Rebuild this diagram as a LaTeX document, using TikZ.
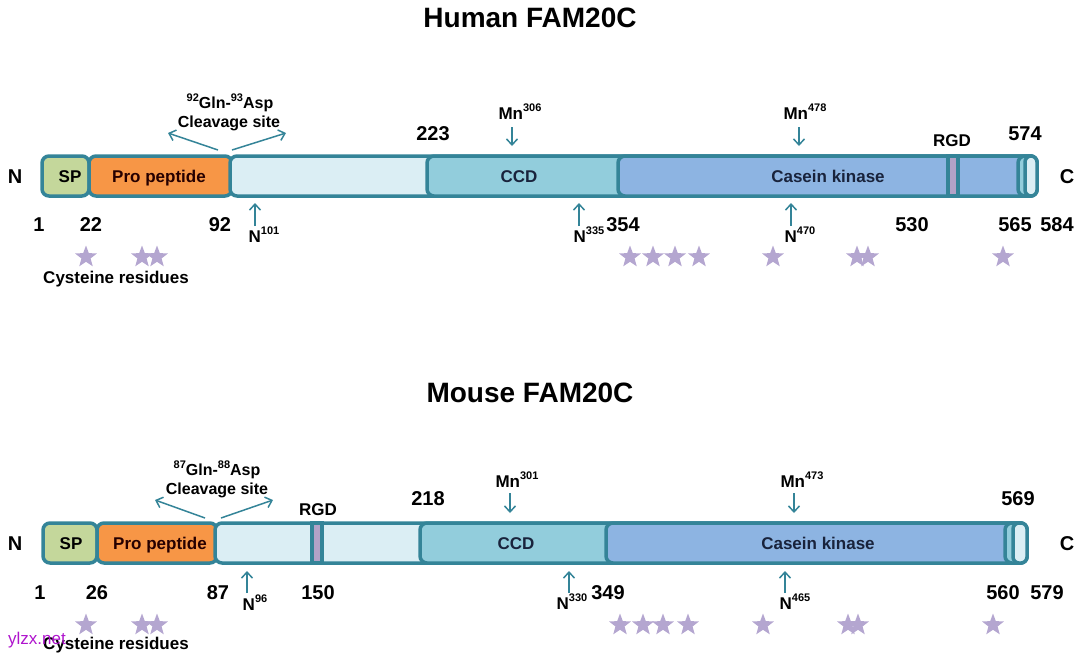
\documentclass[tikz,border=0pt]{standalone}
\usepackage{fontspec}
\setmainfont{Liberation Sans}
\usetikzlibrary{shapes.geometric,arrows.meta}

\definecolor{barline}{RGB}{52,132,152}
\definecolor{spgreen}{RGB}{196,215,155}
\definecolor{proorange}{RGB}{247,150,70}
\definecolor{paleseg}{RGB}{219,238,244}
\definecolor{ccdblue}{RGB}{146,205,220}
\definecolor{ckblue}{RGB}{141,180,226}
\definecolor{rgdlav}{RGB}{179,162,199}
\definecolor{cyslav}{RGB}{180,166,208}
\definecolor{darktext}{RGB}{25,35,60}
\definecolor{wmark}{RGB}{175,20,205}

\newcommand\upnum[1]{\raisebox{0.45em}{\fontsize{11}{11}\selectfont #1}}

\tikzset{
  seg/.style={draw=barline, line width=3.5pt, rounded corners=7pt},
  lbl/.style={font=\bfseries\fontsize{#1}{#1}\selectfont, text height=0.716*#1 pt, text depth=0pt, inner sep=0pt},
  lbl/.default=17,
  num/.style={lbl=20},
  site/.style={->, >={Straight Barb[length=6pt,width=11pt]}, draw=barline, line width=1.5pt},
  cys/.style={star, star points=5, star point ratio=2.4, fill=cyslav, minimum size=23pt, inner sep=0pt}
}

\begin{document}
\begin{tikzpicture}[x=1pt, y=-1pt]
  \useasboundingbox (0,0) rectangle (1080,657);

  % ---- human
  \node[lbl=28] (htitle) at (530,17) {Human FAM20C};
  \draw[seg, fill=spgreen] (42,156) rectangle (89,196);
  \draw[seg, fill=proorange] (89,156) rectangle (232,196);
  \draw[seg, fill=paleseg] (230,156) rectangle (1037,196);
  \draw[seg, fill=ccdblue] (427,156) rectangle (1037,196);
  \draw[seg, fill=ckblue] (618,156) rectangle (1037,196);
  \draw[seg, fill=rgdlav, rounded corners=0pt] (948,156) rectangle (958,196);
  \draw[seg, fill=ccdblue] (1018,156) rectangle (1037,196);
  \draw[seg, fill=paleseg, rounded corners=6pt] (1025,156) rectangle (1037,196);
  \node[lbl] (hsp) at (70,176) {SP};
  \node[lbl, text=black!85!red] (hpro) at (159,176) {Pro peptide};
  \node[lbl, text=darktext] (hccd) at (519,176) {CCD};
  \node[lbl, text=darktext] (hck) at (828,176) {Casein kinase};
  \node[num] (hN) at (15,176) {N};
  \node[num] (hC) at (1067,176) {C};
  \foreach \x/\t in {39/1, 91/22, 220/92, 623/354, 912/530, 1015/565, 1057/584}
    \node[num] (hnum\t) at (\x,224) {\t};
  \node[num] (hnum223) at (433,133) {223};
  \node[num] (hnum574) at (1025,133) {574};
  \node[lbl] (hrgd) at (952,140) {RGD};
  \node[lbl=16] (hgln) at (230,103) {\upnum{92}Gln-\upnum{93}Asp};
  \node[lbl=16] (hcleave) at (229,122) {Cleavage site};
  \coordinate (hcut) at (225,150);
  \coordinate (hcutL) at (168,133);
  \coordinate (hcutR) at (286,133);
  \draw[site] ([xshift=-7pt]hcut) -- (hcutL);
  \draw[site] ([xshift=7pt]hcut) -- (hcutR);
  \node[lbl] (hmn306) at (520,113) {Mn\upnum{306}};
  \node[lbl] (hmn478) at (805,113) {Mn\upnum{478}};
  \coordinate (hmn306tip) at (512,146);
  \coordinate (hmn478tip) at (799,146);
  \draw[site] (512,127) -- (hmn306tip);
  \draw[site] (799,127) -- (hmn478tip);
  \node[lbl] (hn101) at (264,236) {N\upnum{101}};
  \node[lbl] (hn335) at (589,236) {N\upnum{335}};
  \node[lbl] (hn470) at (800,236) {N\upnum{470}};
  \coordinate (hn101tip) at (255,203);
  \coordinate (hn335tip) at (579,203);
  \coordinate (hn470tip) at (791,203);
  \draw[site] (255,226) -- (hn101tip);
  \draw[site] (579,226) -- (hn335tip);
  \draw[site] (791,226) -- (hn470tip);
  \foreach \x in {86,142,157,630,653,675,699,773,857,868,1003}
    \node[cys] (hstar\x) at (\x,257) {};
  \node[lbl] (hcys) at (116,277) {Cysteine residues};

  % ---- mouse
  \node[lbl=28] (mtitle) at (530,392) {Mouse FAM20C};
  \draw[seg, fill=spgreen] (43,523) rectangle (97,563);
  \draw[seg, fill=proorange] (97,523) rectangle (217,563);
  \draw[seg, fill=paleseg] (215,523) rectangle (1027,563);
  \draw[seg, fill=rgdlav, rounded corners=0pt] (312,523) rectangle (322,563);
  \draw[seg, fill=ccdblue] (420,523) rectangle (1027,563);
  \draw[seg, fill=ckblue] (606,523) rectangle (1027,563);
  \draw[seg, fill=ccdblue] (1005,523) rectangle (1027,563);
  \draw[seg, fill=paleseg, rounded corners=6pt] (1013,523) rectangle (1027,563);
  \node[lbl] (msp) at (71,543) {SP};
  \node[lbl, text=black!85!red] (mpro) at (160,543) {Pro peptide};
  \node[lbl, text=darktext] (mccd) at (516,543) {CCD};
  \node[lbl, text=darktext] (mck) at (818,543) {Casein kinase};
  \node[num] (mN) at (15,543) {N};
  \node[num] (mC) at (1067,543) {C};
  \foreach \x/\t in {40/1, 97/26, 218/87, 318/150, 608/349, 1003/560, 1047/579}
    \node[num] (mnum\t) at (\x,592) {\t};
  \node[num] (mnum218) at (428,498) {218};
  \node[num] (mnum569) at (1018,498) {569};
  \node[lbl] (mrgd) at (318,509) {RGD};
  \node[lbl=16] (mgln) at (217,470) {\upnum{87}Gln-\upnum{88}Asp};
  \node[lbl=16] (mcleave) at (217,489) {Cleavage site};
  \coordinate (mcut) at (213,518);
  \coordinate (mcutL) at (155,500);
  \coordinate (mcutR) at (273,500);
  \draw[site] ([xshift=-8pt]mcut) -- (mcutL);
  \draw[site] ([xshift=8pt]mcut) -- (mcutR);
  \node[lbl] (mmn301) at (517,481) {Mn\upnum{301}};
  \node[lbl] (mmn473) at (802,481) {Mn\upnum{473}};
  \coordinate (mmn301tip) at (510,513);
  \coordinate (mmn473tip) at (794,513);
  \draw[site] (510,493) -- (mmn301tip);
  \draw[site] (794,493) -- (mmn473tip);
  \node[lbl] (mn96) at (255,604) {N\upnum{96}};
  \node[lbl] (mn330) at (572,603) {N\upnum{330}};
  \node[lbl] (mn465) at (795,603) {N\upnum{465}};
  \coordinate (mn96tip) at (247,571);
  \coordinate (mn330tip) at (569,571);
  \coordinate (mn465tip) at (785,571);
  \draw[site] (247,593) -- (mn96tip);
  \draw[site] (569,593) -- (mn330tip);
  \draw[site] (785,593) -- (mn465tip);
  \foreach \x in {86,142,157,620,643,663,688,763,848,858,993}
    \node[cys] (mstar\x) at (\x,625) {};
  \node[lbl] (mcys) at (116,643) {Cysteine residues};

  \node[font=\fontsize{17}{17}\selectfont, text=wmark, inner sep=0pt] (mark) at (37,640) {ylzx.net};
\end{tikzpicture}
\end{document}
